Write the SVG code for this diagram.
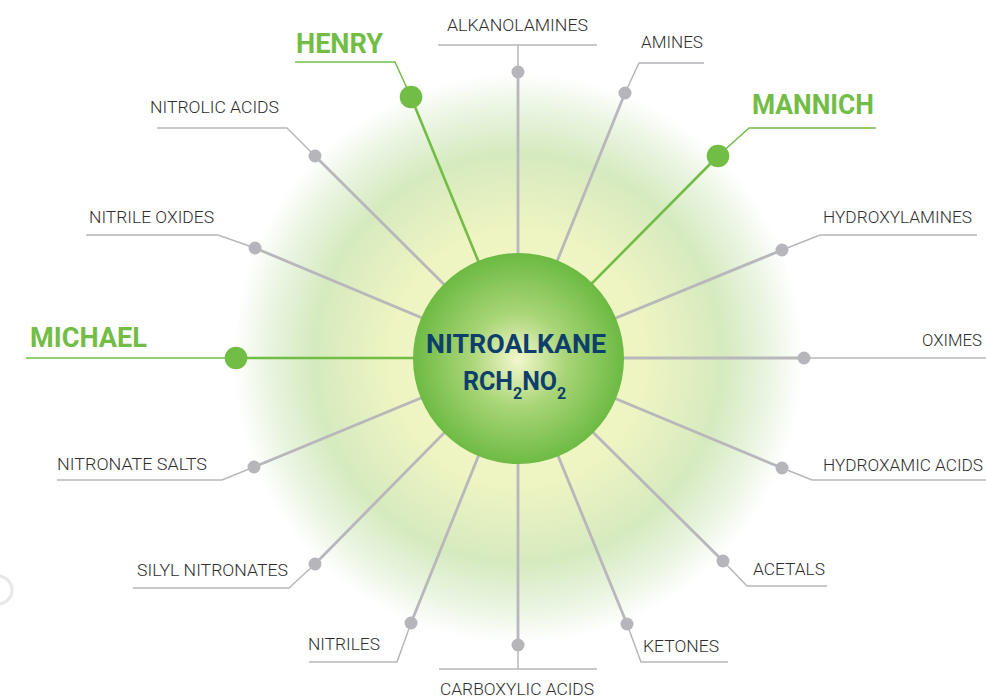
<svg xmlns="http://www.w3.org/2000/svg" width="986" height="699" viewBox="0 0 986 699">
<defs>
<radialGradient id="glow" cx="518" cy="358" r="285" gradientUnits="userSpaceOnUse">
<stop offset="0" stop-color="#f6f7c8"/>
<stop offset="0.45" stop-color="#eef4c2"/>
<stop offset="0.72" stop-color="#d6eabf"/>
<stop offset="0.88" stop-color="#eaf5e2"/>
<stop offset="1" stop-color="#ffffff"/>
</radialGradient>
<radialGradient id="ball" cx="518" cy="360" r="106" gradientUnits="userSpaceOnUse">
<stop offset="0" stop-color="#f4f7cc"/>
<stop offset="0.45" stop-color="#a9d577"/>
<stop offset="1" stop-color="#6cba43"/>
</radialGradient>
<style>
.sp{stroke:#b7b7bc;stroke-width:2.8;fill:none}
.th{stroke:#b7b7bc;stroke-width:1.5;fill:none}
.gsp{stroke:#72bd45;stroke-width:2.6;fill:none}
.gth{stroke:#72bd45;stroke-width:1.5;fill:none}
.dot{fill:#b5b5ba}
.gdot{fill:#72bd45}
.lbl{font-family:Roboto,"Liberation Sans",sans-serif;font-size:17px;font-weight:300;fill:#2e2e2e}
.glbl{font-family:Roboto,"Liberation Sans",sans-serif;font-size:28px;font-weight:700;fill:#72bd45}
.ctr{font-family:Roboto,"Liberation Sans",sans-serif;font-weight:700;fill:#0e3e6b}
</style>
</defs>
<rect width="986" height="699" fill="#ffffff"/>
<circle cx="518" cy="358" r="285" fill="url(#glow)"/>
<path d="M -2 576 A 14 14 0 0 1 -2 604" fill="none" stroke="#e8e8e8" stroke-width="3"/>
<g id="connectors">
<line class="sp" x1="518" y1="358" x2="518" y2="72"/>
<polyline class="th" points="518,72 518,45"/>
<line class="th" x1="438" y1="45" x2="597" y2="45"/>
<line class="sp" x1="518" y1="358" x2="625" y2="93"/>
<polyline class="th" points="625,93 639,63 704,63"/>
<line class="gsp" x1="518" y1="358" x2="718" y2="156"/>
<polyline class="gth" points="718,156 749,128 876,128"/>
<line class="sp" x1="518" y1="358" x2="782" y2="250"/>
<polyline class="th" points="782,250 820,235 977,235"/>
<line class="sp" x1="518" y1="358" x2="804" y2="358"/>
<polyline class="th" points="804,358 986,358"/>
<line class="sp" x1="518" y1="358" x2="782" y2="468"/>
<polyline class="th" points="782,468 812,480 986,480"/>
<line class="sp" x1="518" y1="358" x2="723" y2="561"/>
<polyline class="th" points="723,561 747,586 827,586"/>
<line class="sp" x1="518" y1="358" x2="627" y2="624"/>
<polyline class="th" points="627,624 641,662 728,662"/>
<line class="sp" x1="518" y1="358" x2="518" y2="645"/>
<polyline class="th" points="518,645 518,669"/>
<line class="th" x1="439" y1="669" x2="597" y2="669"/>
<line class="sp" x1="518" y1="358" x2="411" y2="623"/>
<polyline class="th" points="411,623 397,662 309,662"/>
<line class="sp" x1="518" y1="358" x2="315" y2="564"/>
<polyline class="th" points="315,564 289,588 133,588"/>
<line class="sp" x1="518" y1="358" x2="254" y2="467"/>
<polyline class="th" points="254,467 222,480 57,480"/>
<line class="gsp" x1="518" y1="358" x2="236" y2="358"/>
<polyline class="gth" points="236,358 26,358"/>
<line class="sp" x1="518" y1="358" x2="255" y2="248"/>
<polyline class="th" points="255,248 218,235 86,235"/>
<line class="sp" x1="518" y1="358" x2="315" y2="156"/>
<polyline class="th" points="315,156 287,128 157,128"/>
<line class="gsp" x1="518" y1="358" x2="411" y2="97"/>
<polyline class="gth" points="411,97 395,62 295,62"/>
</g>
<g id="alkanolamines"><circle class="dot" cx="518" cy="72" r="6.5"/><text class="lbl" x="447" y="31" textLength="141" lengthAdjust="spacingAndGlyphs">ALKANOLAMINES</text></g>
<g id="amines"><circle class="dot" cx="625" cy="93" r="6.5"/><text class="lbl" x="641" y="48" textLength="62" lengthAdjust="spacingAndGlyphs">AMINES</text></g>
<g id="mannich"><circle class="gdot" cx="718" cy="156" r="11.3"/><text class="glbl" x="752" y="114" textLength="122" lengthAdjust="spacingAndGlyphs">MANNICH</text></g>
<g id="hydroxylamines"><circle class="dot" cx="782" cy="250" r="6.5"/><text class="lbl" x="823" y="223" textLength="149" lengthAdjust="spacingAndGlyphs">HYDROXYLAMINES</text></g>
<g id="oximes"><circle class="dot" cx="804" cy="358" r="6.5"/><text class="lbl" x="922" y="346" textLength="60" lengthAdjust="spacingAndGlyphs">OXIMES</text></g>
<g id="hydroxamic-acids"><circle class="dot" cx="782" cy="468" r="6.5"/><text class="lbl" x="823" y="471" textLength="160" lengthAdjust="spacingAndGlyphs">HYDROXAMIC ACIDS</text></g>
<g id="acetals"><circle class="dot" cx="723" cy="561" r="6.5"/><text class="lbl" x="753" y="575" textLength="72" lengthAdjust="spacingAndGlyphs">ACETALS</text></g>
<g id="ketones"><circle class="dot" cx="627" cy="624" r="6.5"/><text class="lbl" x="643" y="652" textLength="76" lengthAdjust="spacingAndGlyphs">KETONES</text></g>
<g id="carboxylic-acids"><circle class="dot" cx="518" cy="645" r="6.5"/><text class="lbl" x="440" y="695" textLength="154" lengthAdjust="spacingAndGlyphs">CARBOXYLIC ACIDS</text></g>
<g id="nitriles"><circle class="dot" cx="411" cy="623" r="6.5"/><text class="lbl" x="308" y="650" textLength="72" lengthAdjust="spacingAndGlyphs">NITRILES</text></g>
<g id="silyl-nitronates"><circle class="dot" cx="315" cy="564" r="6.5"/><text class="lbl" x="137" y="576" textLength="151" lengthAdjust="spacingAndGlyphs">SILYL NITRONATES</text></g>
<g id="nitronate-salts"><circle class="dot" cx="254" cy="467" r="6.5"/><text class="lbl" x="57" y="470" textLength="150" lengthAdjust="spacingAndGlyphs">NITRONATE SALTS</text></g>
<g id="michael"><circle class="gdot" cx="236" cy="358" r="11.3"/><text class="glbl" x="30" y="347" textLength="117" lengthAdjust="spacingAndGlyphs">MICHAEL</text></g>
<g id="nitrile-oxides"><circle class="dot" cx="255" cy="248" r="6.5"/><text class="lbl" x="89" y="223" textLength="125" lengthAdjust="spacingAndGlyphs">NITRILE OXIDES</text></g>
<g id="nitrolic-acids"><circle class="dot" cx="315" cy="156" r="6.5"/><text class="lbl" x="150" y="113" textLength="129" lengthAdjust="spacingAndGlyphs">NITROLIC ACIDS</text></g>
<g id="henry"><circle class="gdot" cx="411" cy="97" r="11.3"/><text class="glbl" x="296" y="53" textLength="87" lengthAdjust="spacingAndGlyphs">HENRY</text></g>
<g id="nitroalkane">
<circle cx="518.5" cy="358.5" r="105.5" fill="url(#ball)"/>
<text class="ctr" x="426" y="353" font-size="25" textLength="180" lengthAdjust="spacingAndGlyphs">NITROALKANE</text>
<text class="ctr" x="463" y="390" font-size="25">RCH<tspan font-size="16" dy="9">2</tspan><tspan dy="-9">NO</tspan><tspan font-size="16" dy="9">2</tspan></text>
</g>
</svg>
